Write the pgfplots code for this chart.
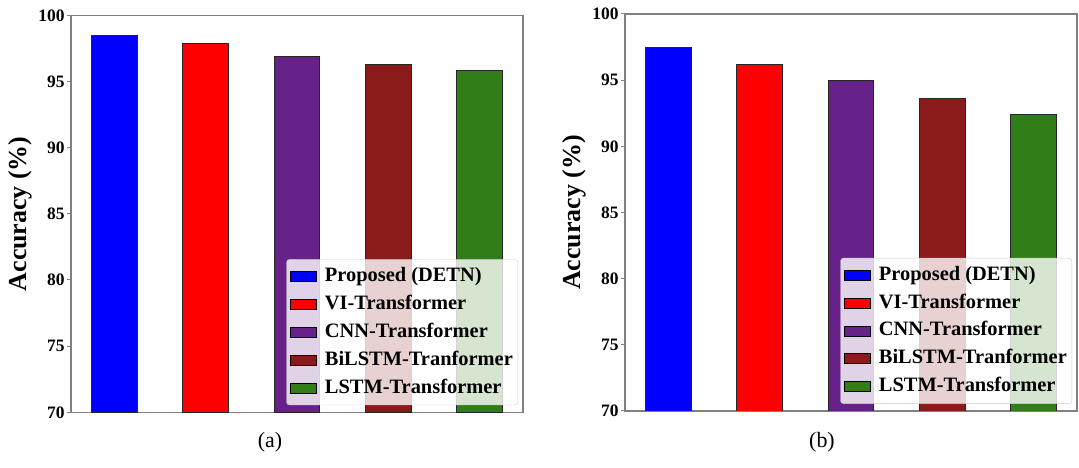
\documentclass[border=0pt]{standalone}
\usepackage{fontspec}
\setmainfont{Liberation Serif}
\usepackage{pgfplots}
\pgfplotsset{compat=1.18}
\definecolor{cblue}{RGB}{0,0,255}
\definecolor{cred}{RGB}{255,0,0}
\definecolor{cpurple}{RGB}{102,34,136}
\definecolor{cbrown}{RGB}{139,26,26}
\definecolor{cgreen}{RGB}{49,125,23}
\definecolor{spine}{RGB}{128,128,128}
\pgfplotsset{
  panel/.style={
    scale only axis, width=452bp, height=397bp,
    xmin=-0.475, xmax=4.475, ymin=70, ymax=100,
    ytick={70,75,...,100}, xtick=\empty, ytick pos=left,
    ybar, bar width=0.5, bar shift=0pt,
    axis line style={spine, line width=1.3bp},
    ytick style={spine, line width=1bp}, tick align=outside, major tick length=4bp,
    /pgf/number format/assume math mode=true,
    yticklabel style={font=\fontsize{17.5}{17.5}\selectfont\bfseries, xshift=1bp},
    ylabel={Accuracy (\%)},
    ylabel style={font=\fontsize{26}{26}\selectfont\bfseries, at={(axis description cs:-0.113,0.5)}, anchor=center},
    area legend,
    legend image code/.code={\draw[##1, sharp corners, fill opacity=1, draw opacity=1, draw=black, line width=0.8bp] (0bp,-5bp) rectangle (26bp,5bp); \path[draw=none, fill=none] (0bp,-0.1bp) rectangle (33bp,0.1bp);},
    legend cell align=left,
    legend style={at={(axis description cs:0.989,0.018)}, anchor=south east,
      font=\fontsize{20.5}{20.5}\selectfont\bfseries,
      fill=white, fill opacity=0.8, text opacity=1, draw=gray!40, draw opacity=1,
      rounded corners=3bp, inner xsep=3bp, inner ysep=3bp, row sep=0pt,
      nodes={inner ysep=4.95bp, text height=14bp, text depth=4bp}},
    every axis plot/.append style={draw=black!85, line width=0.8bp},
  }
}
\begin{document}
\begin{tikzpicture}
\useasboundingbox (0,0) rectangle (1079bp,468bp);
\begin{axis}[panel, at={(71bp,55.7bp)}, anchor=south west]
\addplot[fill=cblue] coordinates {(0,98.5)};
\addplot[fill=cred] coordinates {(1,97.9)};
\addplot[fill=cpurple] coordinates {(2,96.9)};
\addplot[fill=cbrown] coordinates {(3,96.3)};
\addplot[fill=cgreen] coordinates {(4,95.8)};
\legend{Proposed (DETN),VI-Transformer,CNN-Transformer,BiLSTM-Tranformer,LSTM-Transformer}
\end{axis}
\begin{axis}[panel, at={(625bp,57bp)}, anchor=south west]
\addplot[fill=cblue] coordinates {(0,97.5)};
\addplot[fill=cred] coordinates {(1,96.2)};
\addplot[fill=cpurple] coordinates {(2,94.95)};
\addplot[fill=cbrown] coordinates {(3,93.65)};
\addplot[fill=cgreen] coordinates {(4,92.4)};
\legend{Proposed (DETN),VI-Transformer,CNN-Transformer,BiLSTM-Tranformer,LSTM-Transformer}
\end{axis}
\node[font=\fontsize{22}{22}\selectfont] at (270bp,26bp) {(a)};
\node[font=\fontsize{22}{22}\selectfont] at (822bp,26bp) {(b)};
\end{tikzpicture}
\end{document}
